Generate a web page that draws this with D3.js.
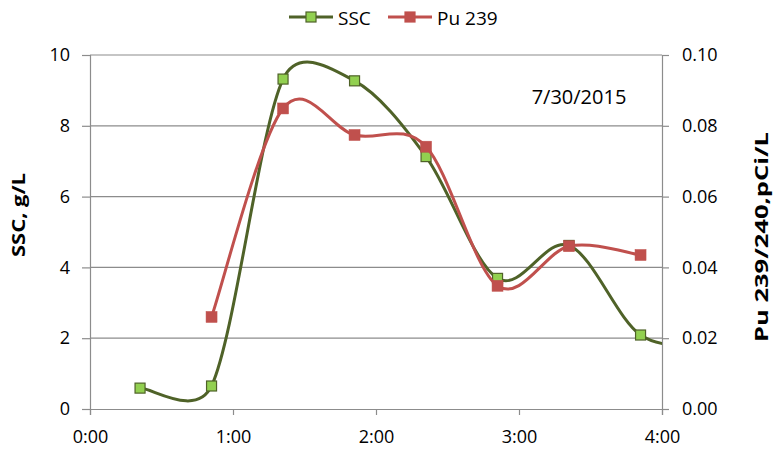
<!DOCTYPE html>
<html><head><meta charset="utf-8">
<script src="https://cdn.jsdelivr.net/npm/d3@7"></script>
<style>body{margin:0;background:#fff}text{font-family:"Open Sans","Liberation Sans",sans-serif}</style>
</head><body><svg id="c" width="773" height="451"></svg>
<script>
// time in minutes after 0:00
const sscTimes = [21, 51, 81, 111, 141, 171, 201, 231, 261];
const sscValues = [0.59, 0.65, 9.32, 9.27, 7.13, 3.69, 4.62, 2.09, 1.85];
const puTimes = [51, 81, 111, 141, 171, 201, 231];
const puValues = [0.026, 0.0849, 0.0774, 0.0741, 0.0348, 0.0460, 0.0435];
const xTicks = [0, 60, 120, 180, 240];
const xTickLabels = ["0:00", "1:00", "2:00", "3:00", "4:00"];
const yLeftTicks = [0, 2, 4, 6, 8, 10];
const yRightTicks = [0, 0.02, 0.04, 0.06, 0.08, 0.10];
const seriesNames = ["SSC", "Pu 239"];
const dateLabel = "7/30/2015";
const leftTitle = "SSC, g/L";
const rightTitle = "Pu 239/240,pCi/L";

const svg = d3.select("#c");
const L = 90, R = 662, T = 55, B = 409;
const x = d3.scaleLinear().domain([0, 240]).range([L, R]);
const yL = d3.scaleLinear().domain([0, 10]).range([B, T]);
const yR = d3.scaleLinear().domain([0, 0.1]).range([B, T]);
const grid = "#8c8c8c";
const ff = '"Open Sans","Liberation Sans",sans-serif';

// gridlines
svg.append("g").selectAll("line").data(yLeftTicks.filter(d => d > 0)).join("line")
  .attr("x1", L).attr("x2", R).attr("y1", d => yL(d)).attr("y2", d => yL(d))
  .attr("stroke", grid).attr("stroke-width", 1.2);

// axes
const fs = "18px";
const gx = svg.append("g").attr("transform", `translate(0,${B})`)
  .call(d3.axisBottom(x).tickValues(xTicks).tickFormat((d, i) => xTickLabels[i]).tickSize(6).tickPadding(15));
const gl = svg.append("g").attr("transform", `translate(${L},0)`)
  .call(d3.axisLeft(yL).tickValues(yLeftTicks).tickFormat(d3.format("d")).tickSize(8).tickPadding(12));
const gr = svg.append("g").attr("transform", `translate(${R},0)`)
  .call(d3.axisRight(yR).tickValues(yRightTicks).tickFormat(d3.format(".2f")).tickSize(7).tickPadding(13));
[gx, gl, gr].forEach(g => {
  g.selectAll("path.domain").attr("stroke", grid).attr("stroke-width", 1.2);
  g.selectAll(".tick line").attr("stroke", grid).attr("stroke-width", 1.2);
  g.selectAll("text").attr("font-size", fs).attr("fill", "#000").style("font-family", ff);
});

// clip
svg.append("clipPath").attr("id", "pc").append("rect").attr("x", L).attr("y", 0).attr("width", R - L).attr("height", 451);

const sscData = sscTimes.map((t, i) => [t, sscValues[i]]);
const puData = puTimes.map((t, i) => [t, puValues[i]]);
const green = "#4f6228", greenFill = "#92d050", red = "#c0504d";

// Excel-like smoothed line: Bezier with tangents (P[i+1]-P[i-1])/6, arm length limited by chord
function smoothPath(pts) {
  const p = d3.path();
  const n = pts.length;
  const tan = pts.map((_, i) => {
    const a = pts[Math.max(0, i - 1)], b = pts[Math.min(n - 1, i + 1)];
    return [(b[0] - a[0]) / 6, (b[1] - a[1]) / 6];
  });
  const k = 0.5;
  function clampArm(t, chord) {
    const len = Math.hypot(t[0], t[1]);
    const lim = k * chord;
    const s = len > lim ? lim / len : 1;
    return [t[0] * s, t[1] * s];
  }
  p.moveTo(pts[0][0], pts[0][1]);
  for (let i = 0; i < n - 1; i++) {
    const a = pts[i], b = pts[i + 1];
    const chord = Math.hypot(b[0] - a[0], b[1] - a[1]);
    const t1 = clampArm(tan[i], chord), t2 = clampArm(tan[i + 1], chord);
    p.bezierCurveTo(a[0] + t1[0], a[1] + t1[1], b[0] - t2[0], b[1] - t2[1], b[0], b[1]);
  }
  return p.toString();
}

const sscPx = sscData.map(d => [x(d[0]), yL(d[1])]);
const puPx = puData.map(d => [x(d[0]), yR(d[1])]);

const pg = svg.append("g").attr("clip-path", "url(#pc)");
pg.append("path").attr("d", smoothPath(sscPx)).attr("fill", "none").attr("stroke", green).attr("stroke-width", 3);
pg.selectAll("rect.s").data(sscData).join("rect").attr("class", "s")
  .attr("x", d => x(d[0]) - 5).attr("y", d => yL(d[1]) - 5).attr("width", 10).attr("height", 10)
  .attr("fill", greenFill).attr("stroke", green).attr("stroke-width", 1.2);
pg.append("path").attr("d", smoothPath(puPx)).attr("fill", "none").attr("stroke", red).attr("stroke-width", 3);
pg.selectAll("rect.p").data(puData).join("rect").attr("class", "p")
  .attr("x", d => x(d[0]) - 5.5).attr("y", d => yR(d[1]) - 5.5).attr("width", 11).attr("height", 11)
  .attr("fill", red).attr("stroke", red).attr("stroke-width", 0.5);

// axis titles
svg.append("text").attr("transform", `translate(25,215) rotate(-90)`)
  .attr("text-anchor", "middle").attr("font-size", "17px").attr("font-weight", "bold")
  .attr("textLength", 84).attr("lengthAdjust", "spacingAndGlyphs").text(leftTitle);
svg.append("text").attr("transform", `translate(768,237) rotate(-90)`)
  .attr("text-anchor", "middle").attr("font-size", "17px").attr("font-weight", "bold")
  .attr("textLength", 210).attr("lengthAdjust", "spacingAndGlyphs").text(rightTitle);

// date label
svg.append("text").attr("x", 579).attr("y", 104).attr("text-anchor", "middle").attr("font-size", "20px").text(dateLabel);

// legend
const leg = svg.append("g");
const lx = [289, 388];
const colors = [green, red];
seriesNames.forEach((n, i) => {
  leg.append("line").attr("x1", lx[i]).attr("x2", lx[i] + 44).attr("y1", 17).attr("y2", 17)
    .attr("stroke", colors[i]).attr("stroke-width", 3);
  leg.append("rect").attr("x", lx[i] + 17).attr("y", 12).attr("width", 10).attr("height", 10)
    .attr("fill", i === 0 ? greenFill : red).attr("stroke", colors[i]).attr("stroke-width", 1.2);
  leg.append("text").attr("x", lx[i] + 49).attr("y", 25).attr("font-size", "19px").text(n);
});
</script></body></html>
